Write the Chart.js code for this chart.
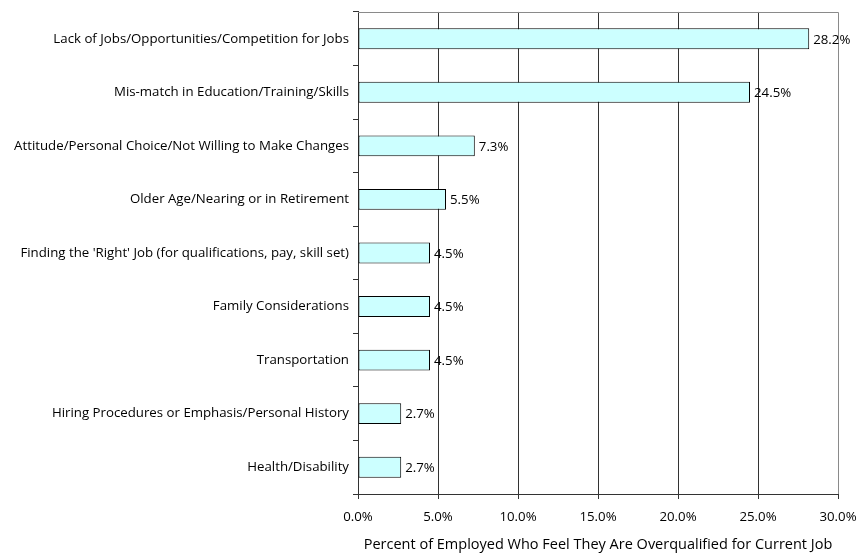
<!DOCTYPE html>
<html>
<head>
<meta charset="utf-8">
<script src="https://cdn.jsdelivr.net/npm/chart.js@4"></script>
<style>
  html, body { margin: 0; padding: 0; background: #fff; }
  #wrap { width: 858px; height: 555px; }
</style>
</head>
<body>
<div id="wrap"><canvas id="chart" width="858" height="555"></canvas></div>
<script>
// reasons, top to bottom
const categories = [
    "Lack of Jobs/Opportunities/Competition for Jobs",
    "Mis-match in Education/Training/Skills",
    "Attitude/Personal Choice/Not Willing to Make Changes",
    "Older Age/Nearing or in Retirement",
    "Finding the 'Right' Job (for qualifications, pay, skill set)",
    "Family Considerations",
    "Transportation",
    "Hiring Procedures or Emphasis/Personal History",
    "Health/Disability"
];
const percents = [28.2, 24.5, 7.3, 5.5, 4.5, 4.5, 4.5, 2.7, 2.7];
const xTicks = [0, 5, 10, 15, 20, 25, 30];
const axisTitle = "Percent of Employed Who Feel They Are Overqualified for Current Job";

const FONT = "'Open Sans', sans-serif";
const FS = 13.25;

// value labels just past the end of each bar
const barLabels = {
    id: "barLabels",
    afterDatasetsDraw(chart) {
        const ctx = chart.ctx;
        const meta = chart.getDatasetMeta(0);
        ctx.save();
        ctx.font = FS + "px " + FONT;
        ctx.fillStyle = "#000";
        ctx.textAlign = "left";
        ctx.textBaseline = "middle";
        meta.data.forEach((bar, i) => {
            ctx.fillText(percents[i].toFixed(1) + "%", bar.x + 4, bar.y + 1);
        });
        ctx.restore();
    }
};

// light grey frame on the top and right of the plot area
const plotFrame = {
    id: "plotFrame",
    beforeDatasetsDraw(chart) {
        const a = chart.chartArea;
        const ctx = chart.ctx;
        ctx.save();
        ctx.strokeStyle = "#8a8a8a";
        ctx.lineWidth = 1;
        ctx.beginPath();
        ctx.moveTo(a.left, Math.round(a.top) + 0.5);
        ctx.lineTo(Math.round(a.right) + 0.5, Math.round(a.top) + 0.5);
        ctx.lineTo(Math.round(a.right) + 0.5, a.bottom);
        ctx.stroke();
        ctx.restore();
    }
};

const ctx = document.getElementById("chart").getContext("2d");
new Chart(ctx, {
    type: "bar",
    data: {
        labels: categories,
        datasets: [{
            data: percents,
            backgroundColor: "#ccffff",
            borderColor: "#000",
            borderWidth: 1,
            borderSkipped: false,
            categoryPercentage: 1,
            barPercentage: 0.39
        }]
    },
    options: {
        indexAxis: "y",
        responsive: false,
        animation: false,
        layout: { padding: { top: 9, right: 0, left: 0, bottom: 0 } },
        plugins: {
            legend: { display: false },
            tooltip: { enabled: false }
        },
        scales: {
            x: {
                min: 0,
                max: 30,
                afterBuildTicks: axis => { axis.ticks = xTicks.map(v => ({ value: v })); },
                afterFit: axis => {
                    axis.height = 61;
                    axis.paddingLeft = 0;
                    axis.paddingRight = 20;
                },
                ticks: {
                    color: "#000",
                    font: { family: FONT, size: FS },
                    padding: 10,
                    maxRotation: 0,
                    callback: v => Number(v).toFixed(1) + "%"
                },
                grid: {
                    color: ctx => ctx.tick && ctx.tick.value === 30 ? "rgba(0,0,0,0)" : "#333",
                    tickColor: "#333",
                    tickLength: 5,
                    lineWidth: 1
                },
                border: { color: "#333", width: 1 },
                title: {
                    display: true,
                    text: axisTitle,
                    color: "#000",
                    font: { family: FONT, size: 14.5 },
                    padding: { top: 4, bottom: 1 }
                }
            },
            y: {
                afterFit: axis => { axis.width = 358; },
                ticks: {
                    color: "#000",
                    font: { family: FONT, size: FS },
                    padding: 4,
                    autoSkip: false
                },
                grid: {
                    offset: true,
                    drawOnChartArea: false,
                    tickColor: "#333",
                    tickLength: 5
                },
                border: { color: "#333", width: 1 }
            }
        }
    },
    plugins: [plotFrame, barLabels]
});
</script>
</body>
</html>
